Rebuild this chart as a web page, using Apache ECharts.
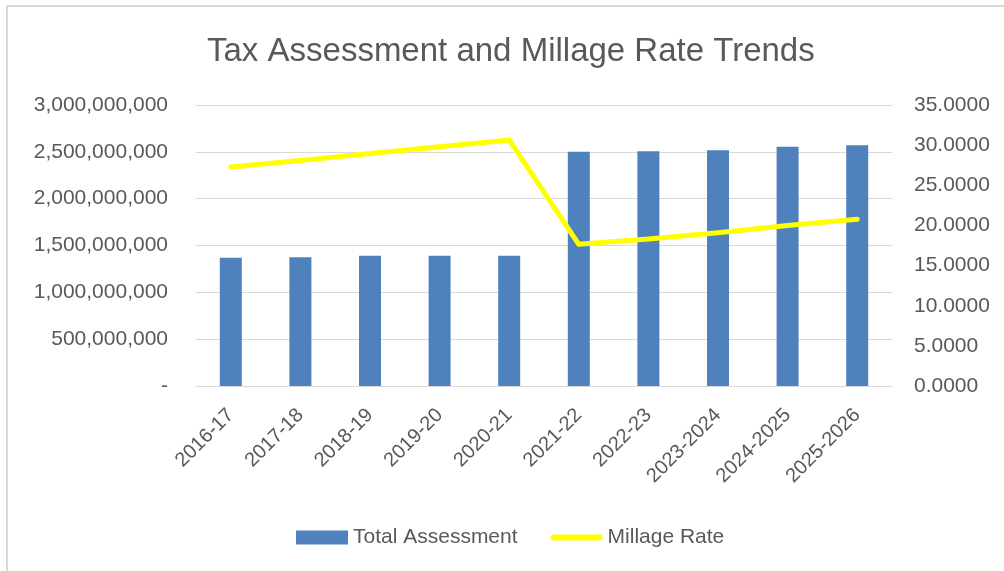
<!DOCTYPE html>
<html>
<head>
<meta charset="utf-8">
<script src="https://cdn.jsdelivr.net/npm/echarts@6/dist/echarts.min.js"></script>
<style>
  html, body { margin: 0; padding: 0; background: #fff; }
  #chart { width: 1004px; height: 571px; }
</style>
</head>
<body>
<div id="chart"></div>
<script>
// 年度
const years = ['2016-17', '2017-18', '2018-19', '2019-20', '2020-21',
  '2021-22', '2022-23', '2023-2024', '2024-2025', '2025-2026'];
// Total Assessment
const assessment = [1370000000, 1374000000, 1391000000, 1391000000, 1391000000,
  2501000000, 2505000000, 2516000000, 2555000000, 2570000000];
// Millage Rate
const millage = [27.28, 28.1, 28.95, 29.8, 30.64, 17.65, 18.3, 19.1, 20.0, 20.76];

const textColor = '#595959';
const font = '"Liberation Sans", Arial, sans-serif';

const chart = echarts.init(document.getElementById('chart'));
const option = {
  animation: false,
  textStyle: { fontFamily: font, color: textColor },
  title: {
    text: 'Tax Assessment and Millage Rate Trends',
    left: 202,
    top: 30,
    textStyle: { fontFamily: font, fontSize: 33, fontWeight: 'normal', color: textColor }
  },
  graphic: [
    {
      type: 'rect',
      shape: { x: 7, y: 6, width: 1020, height: 600 },
      style: { fill: 'none', stroke: '#d9d9d9', lineWidth: 2 },
      silent: true
    }
  ],
  legend: {
    bottom: 18,
    left: 291,
    itemGap: 33,
    itemWidth: 52,
    itemHeight: 14,
    textStyle: { fontFamily: font, fontSize: 21, color: textColor },
    data: [
      { name: 'Total Assessment', icon: 'rect' },
      { name: 'Millage Rate', icon: 'path://M3,0 L49,0 A3,3 0 0 1 49,6 L3,6 A3,3 0 0 1 3,0 Z' }
    ]
  },
  grid: { left: 196, right: 112, top: 105, bottom: 185 },
  xAxis: {
    type: 'category',
    data: years,
    axisLine: { lineStyle: { color: '#d9d9d9', width: 1 } },
    axisTick: { show: false },
    axisLabel: { rotate: 45, fontSize: 20, color: textColor, fontFamily: font, margin: 26, interval: 0 }
  },
  yAxis: [
    {
      type: 'value',
      min: 0,
      max: 3000000000,
      interval: 500000000,
      axisLine: { show: false },
      axisTick: { show: false },
      splitLine: { lineStyle: { color: '#d9d9d9', width: 1 } },
      axisLabel: {
        fontSize: 21, color: textColor, fontFamily: font, margin: 28,
        formatter: function (v) { return v === 0 ? '-' : v.toLocaleString('en-US'); }
      }
    },
    {
      type: 'value',
      min: 0,
      max: 35,
      interval: 5,
      axisLine: { show: false },
      axisTick: { show: false },
      splitLine: { show: false },
      axisLabel: {
        fontSize: 21, color: textColor, fontFamily: font, margin: 22,
        formatter: function (v) { return v.toFixed(4); }
      }
    }
  ],
  series: [
    {
      name: 'Total Assessment',
      type: 'bar',
      data: assessment,
      barWidth: 22,
      itemStyle: { color: '#4f81bd' }
    },
    {
      name: 'Millage Rate',
      type: 'line',
      yAxisIndex: 1,
      data: millage,
      symbol: 'none',
      lineStyle: { color: '#ffff00', width: 5, cap: 'round', join: 'round' },
      itemStyle: { color: '#ffff00' }
    }
  ]
};
chart.setOption(option);
</script>
</body>
</html>
